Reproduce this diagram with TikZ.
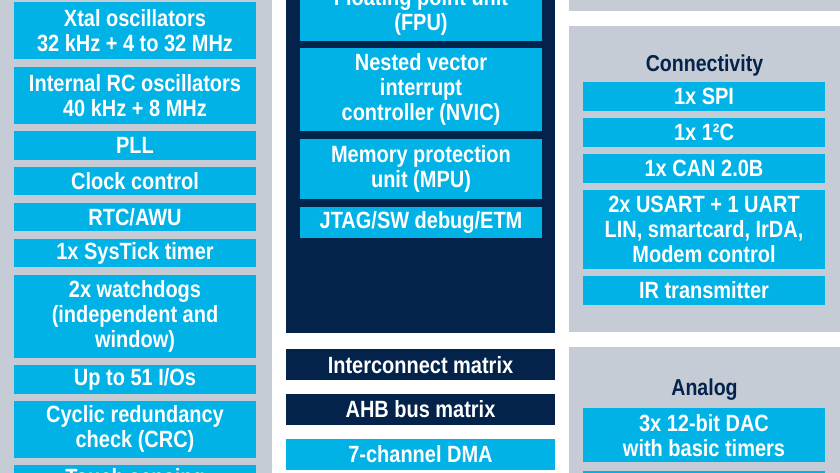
\documentclass[tikz,border=0pt]{standalone}
\usepackage{fontspec}
\setmainfont{Liberation Sans}[FakeStretch=0.85]
\usetikzlibrary{positioning}
\definecolor{stblue}{HTML}{00B2E6}
\definecolor{stnavy}{HTML}{03234B}
\definecolor{stgrey}{HTML}{C5CCD5}

\begin{document}
\begin{tikzpicture}[x=1pt,y=-1pt,
		bluebox/.style={fill=stblue,text=white,font=\bfseries\fontsize{23.5}{25}\selectfont,
			align=center,inner sep=0pt,minimum width=242pt,minimum height=28.5pt},
		navybox/.style={bluebox,fill=stnavy,minimum width=269pt,minimum height=31pt},
		paneltitle/.style={text=stnavy,font=\bfseries\fontsize{23}{25}\selectfont,inner sep=0pt,anchor=base}
		]
		\useasboundingbox (0,0) rectangle (840,472);
		\clip (0,0) rectangle (840,472);
		
		% panels
		\fill[stgrey] (-10,-10) rectangle (272,500);
		\fill[stnavy] (286,-10) rectangle (555,333);
		\fill[stgrey] (569,-10) rectangle (850,11);
		\fill[stgrey] (569,26) rectangle (850,332);
		\fill[stgrey] (569,347) rectangle (850,500);
		
		% left column
		\node[bluebox, minimum height=57pt, anchor=north](L0) at (135,2){Xtal oscillators\\32 kHz + 4 to 32 MHz};
		\node[bluebox, minimum height=57pt, below=7pt of L0](L1){Internal RC oscillators\\40 kHz + 8 MHz};
		\node[bluebox, below=7pt of L1](L2){PLL};
		\node[bluebox, below=7pt of L2](L3){Clock control};
		\node[bluebox, below=7pt of L3](L4){RTC/AWU};
		\node[bluebox, below=7pt of L4](L5){1x SysTick timer};
		\node[bluebox, minimum height=83pt, below=7pt of L5](L6){2x watchdogs\\(independent and\\window)};
		\node[bluebox, below=7pt of L6](L7){Up to 51 I/Os};
		\node[bluebox, minimum height=57pt, below=7pt of L7](L8){Cyclic redundancy\\check (CRC)};
		\node[bluebox, below=7pt of L8](L9){Touch sensing};
		
		% core
		\node[bluebox, minimum height=57pt, anchor=south](N0) at (421,41){Floating point unit\\(FPU)};
		\node[bluebox, minimum height=83pt, below=7pt of N0](N1){Nested vector\\interrupt\\controller (NVIC)};
		\node[bluebox, minimum height=60pt, below=7.5pt of N1](N2){Memory protection\\unit (MPU)};
		\node[bluebox, minimum height=31pt, below=7pt of N2](N3){JTAG/SW debug/ETM};
		
		% bus
		\node[navybox, anchor=north](M0) at (420.5,349){Interconnect matrix};
		\node[navybox, below=13pt of M0](M1){AHB bus matrix};
		\node[navybox, fill=stblue, below=14pt of M1](M2){7-channel DMA};
		
		% connectivity
		\node[paneltitle](C0) at (704.5,71){Connectivity};
		\node[bluebox, anchor=north](C1) at (704,82){1x SPI};
		\node[bluebox, below=7pt of C1](C2){1x 1²C};
		\node[bluebox, below=7pt of C2](C3){1x CAN 2.0B};
		\node[bluebox, minimum height=79pt, below=7pt of C3](C4){2x USART + 1 UART\\LIN, smartcard, IrDA,\\Modem control};
		\node[bluebox, below=7pt of C4](C5){IR transmitter};
		
		% analog
		\node[paneltitle](A0) at (704.5,395){Analog};
		\node[bluebox, minimum height=54pt, anchor=north](A1) at (704,408){3x 12-bit DAC\\with basic timers};
		\node[bluebox, below=8pt of A1](A2){};
	\end{tikzpicture}
\end{document}
